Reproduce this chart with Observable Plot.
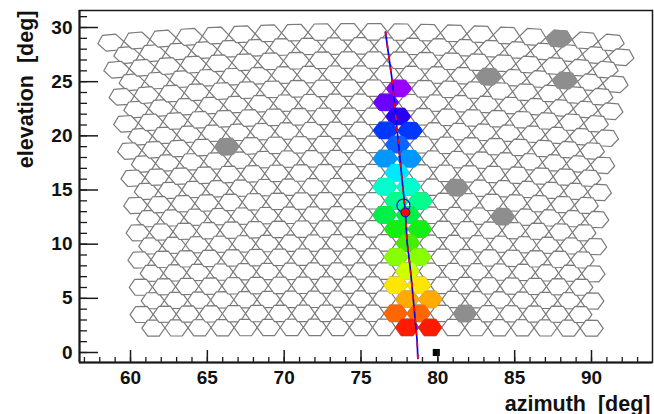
<!DOCTYPE html>
<html>
<head>
<meta charset="utf-8">
<script src="https://cdn.jsdelivr.net/npm/d3@7"></script>
<script src="https://cdn.jsdelivr.net/npm/@observablehq/plot@0.6"></script>
<style>
  html, body { margin: 0; padding: 0; background: #fff; }
</style>
</head>
<body>
<div id="chart"></div>
<script>
// ---- tick labels ----
const xTicks = [60, 65, 70, 75, 80, 85, 90];
const yTicks = [0, 5, 10, 15, 20, 25, 30];
const xMinor = d3.range(57, 94);
const yMinor = d3.range(0, 32);

// ---- camera layout (22 rows x 20 columns) ----
const nRows = 22;
const nCols = 20;
const rowElevation = [29.6, 28.3, 27.0, 25.7, 24.4, 23.1, 21.81, 20.51, 19.21, 17.91, 16.61,
                      15.31, 14.01, 12.71, 11.41, 10.12, 8.82, 7.52, 6.22, 4.92, 3.62, 2.32];
const cameraAzimuth = 75;
const columnStep = 1.5;

// ---- pixels with signal (row, column, colour) ----
const sigRows = [4, 5, 6, 7, 7, 8, 9, 9, 10, 11, 11, 12, 12, 13, 13, 14, 14, 15, 16, 16, 17, 18, 18, 19, 19, 20, 20, 21, 21];
const sigCols = [11, 10, 11, 10, 11, 11, 10, 11, 11, 10, 11, 11, 12, 10, 11, 11, 12, 11, 11, 12, 11, 11, 12, 11, 12, 11, 12, 11, 12];
const sigColors = ["#9a00ff", "#6a00ff", "#2a00f2", "#0038ff", "#0038ff", "#0a64ff", "#0098ff", "#0098ff",
                   "#00e8ff", "#00ffcc", "#00ffcc", "#00ff8c", "#00ff8c", "#00f048", "#00f048",
                   "#14ee14", "#14ee14", "#44ee00", "#88ff00", "#88ff00", "#ccff00", "#ffe600", "#ffe600",
                   "#ffaa00", "#ffaa00", "#ff6600", "#ff6600", "#ff1a00", "#ff1a00"];

// ---- bad (grey) pixels ----
const badRows = [0, 3, 3, 8, 11, 13, 20];
const badCols = [17, 14, 17, 4, 13, 15, 14];

// ---- reconstructed track, core, station ----
const trackAz = [76.59, 77.03, 77.35, 77.68, 77.89, 78.00, 78.22, 78.43, 78.65, 78.70];
const trackEl = [29.58, 25.12, 20.50, 15.88, 12.93, 10.18, 7.57, 4.52, 1.11, -0.55];
const circleAz = [77.76], circleEl = [13.57];
const coreAz = [77.89], coreEl = [12.93];
const stationAz = [79.9], stationEl = [0.0];

// ---- geometry helpers ----
const rad = Math.PI / 180;
const hexShape = [[-0.75, 0], [-0.375, 0.76], [0.375, 0.76], [0.75, 0], [0.375, -0.76], [-0.375, -0.76]];
function project(alpha, E) {
  const a = alpha * rad, e = E * rad;
  const el = Math.asin(Math.cos(a) * Math.sin(e)) / rad;
  const az = cameraAzimuth + Math.atan(Math.tan(a) / Math.cos(e)) / rad;
  return [az, el];
}
function pixelAlpha(r, c) { return (c - (nCols - 1) / 2 + (r % 2 ? 0.5 : 0)) * columnStep; }
function hexVerts(r, c, id, fill) {
  const a0 = pixelAlpha(r, c), e0 = rowElevation[r];
  return hexShape.map(([da, de]) => {
    const [az, el] = project(a0 + da, e0 + de);
    return {id, az, el, fill};
  });
}

const allVerts = [];
for (let c = 0; c < nCols; c++)
  for (let r = 0; r < nRows; r++)
    allVerts.push(...hexVerts(r, c, `p${r}_${c}`, "white"));

const badVerts = [];
badRows.forEach((r, i) => badVerts.push(...hexVerts(r, badCols[i], `b${i}`, "#8e8e8e")));

const sigVerts = [];
sigRows.forEach((r, i) => sigVerts.push(...hexVerts(r, sigCols[i], `s${i}`, sigColors[i])));

const track = trackAz.map((a, i) => ({az: a, el: trackEl[i]}));

const W = 654, H = 414, mL = 79, mR = 2, mT = 10, mB = 52;
const fw = W - mL - mR, fh = H - mT - mB;
const axisColor = "#1a1a1a";

const chart = Plot.plot({
  width: W, height: H,
  marginLeft: mL, marginRight: mR, marginTop: mT, marginBottom: mB,
  x: {domain: [56.68, 93.97], axis: null},
  y: {domain: [-0.923, 31.57], axis: null},
  color: {type: "identity"},
  style: {fontFamily: "'Liberation Sans', Arial, Helvetica, sans-serif", fontWeight: "bold", background: "white", overflow: "visible"},
  marks: [
    Plot.line(allVerts, {x: "az", y: "el", z: "id", fill: "white", stroke: "#7a7a7a", strokeWidth: 1.2, curve: "linear-closed"}),
    Plot.line(badVerts, {x: "az", y: "el", z: "id", fill: "fill", stroke: "fill", strokeWidth: 1, curve: "linear-closed"}),
    Plot.line(sigVerts, {x: "az", y: "el", z: "id", fill: "fill", stroke: "fill", strokeWidth: 1, curve: "linear-closed"}),
    Plot.line(track, {x: "az", y: "el", stroke: "#0000ff", strokeWidth: 1.7}),
    Plot.line(track, {x: "az", y: "el", stroke: "#ff0000", strokeWidth: 1.7, strokeDasharray: "4,8"}),
    Plot.dot(circleAz.map((a, i) => ({az: a, el: circleEl[i]})), {x: "az", y: "el", r: 6.5, stroke: "#0000ff", fill: "none", strokeWidth: 1.2}),
    Plot.dot(coreAz.map((a, i) => ({az: a, el: coreEl[i]})), {x: "az", y: "el", r: 4.5, fill: "#ff0000", stroke: "#0000ff", strokeWidth: 1}),
    Plot.dot(stationAz.map((a, i) => ({az: a, el: stationEl[i]})), {x: "az", y: "el", symbol: "square", r: 4, fill: "black", stroke: "none"}),
    // inward ticks
    Plot.tickX(xMinor, {x: d => d, insetTop: fh - 5, stroke: axisColor, strokeWidth: 1.3}),
    Plot.tickX(xTicks, {x: d => d, insetTop: fh - 12, stroke: axisColor, strokeWidth: 1.5}),
    Plot.tickY(yMinor, {y: d => d, insetRight: fw - 8, stroke: axisColor, strokeWidth: 1.3}),
    Plot.tickY(yTicks, {y: d => d, insetRight: fw - 19, stroke: axisColor, strokeWidth: 1.5}),
    Plot.frame({stroke: axisColor, strokeWidth: 1.5}),
    Plot.ruleX([56.68], {stroke: axisColor, strokeWidth: 2}),
    Plot.ruleY([-0.923], {stroke: axisColor, strokeWidth: 2}),
    // tick labels
    Plot.text(xTicks, {x: d => d, text: d => String(d), frameAnchor: "bottom", lineAnchor: "top", dy: 8, fontSize: 19, fill: "#111"}),
    Plot.text(yTicks, {y: d => d, text: d => String(d), frameAnchor: "left", textAnchor: "end", dx: -7, fontSize: 19, fill: "#111"}),
    // axis titles
    Plot.text(["azimuth  [deg]"], {frameAnchor: "bottom-right", textAnchor: "end", lineAnchor: "bottom", dy: 48, dx: -2, fontSize: 21.5, fill: "#111"}),
    Plot.text(["elevation  [deg]"], {frameAnchor: "top-left", textAnchor: "end", lineAnchor: "bottom", rotate: -90, dx: -47, dy: 0, fontSize: 21.5, fill: "#111"})
  ]
});
document.getElementById("chart").appendChild(chart);
</script>
</body>
</html>
